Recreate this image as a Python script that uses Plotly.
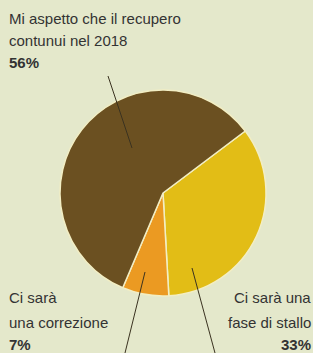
import plotly.graph_objects as go

labels = ["Ci sarà una fase di stallo", "Ci sarà una correzione", "Mi aspetto che il recupero contunui nel 2018"]
values = [33, 7, 56]
colors = ["#e2bd16", "#eb9a22", "#6b5021"]

BG = "#e4e8cb"
TXT = "#333333"
FONT = "Liberation Sans Narrow, Liberation Sans, Arial"

fig = go.Figure(go.Pie(
    labels=labels, values=values, sort=False, direction="clockwise", rotation=53,
    marker=dict(colors=colors, line=dict(color="#f2eec4", width=1.5)),
    textinfo="none", hoverinfo="label+percent", showlegend=False,
    domain=dict(x=[60 / 313, 266 / 313], y=[1 - 296 / 353, 1 - 90 / 353]),
))

W, H = 313, 353
def px(x): return x / W
def py(y): return 1 - y / H

ann = [
    (7, 18, "Mi aspetto che il recupero", "left", False),
    (7, 41, "contunui nel 2018", "left", False),
    (7, 63, "56%", "left", True),
    (7, 297, "Ci sarà", "left", False),
    (7, 322, "una correzione", "left", False),
    (7, 344, "7%", "left", True),
    (313, 297, "Ci sarà una", "right", False),
    (313, 322, "fase di stallo", "right", False),
    (313, 344, "33%", "right", True),
]
for x, y, t, al, b in ann:
    fig.add_annotation(x=px(x), y=py(y), xref="paper", yref="paper", text=f"<b>{t}</b>" if b else t,
                       showarrow=False, xanchor=al, yanchor="middle",
                       font=dict(family=FONT, size=15, color=TXT))

lines = [((108, 76), (132, 148)), ((145, 272), (125, 353)), ((192, 268), (215, 353))]
for (x0, y0), (x1, y1) in lines:
    fig.add_shape(type="line", xref="paper", yref="paper", x0=px(x0), y0=py(y0), x1=px(x1), y1=py(y1),
                  line=dict(color="#3a3220", width=1))

fig.update_layout(width=W, height=H, margin=dict(l=0, r=0, t=0, b=0),
                  paper_bgcolor=BG, plot_bgcolor=BG)
fig.write_html("out.html", config={"displayModeBar": False},
               post_script="document.body.style.margin='0';document.body.style.overflow='hidden';")
